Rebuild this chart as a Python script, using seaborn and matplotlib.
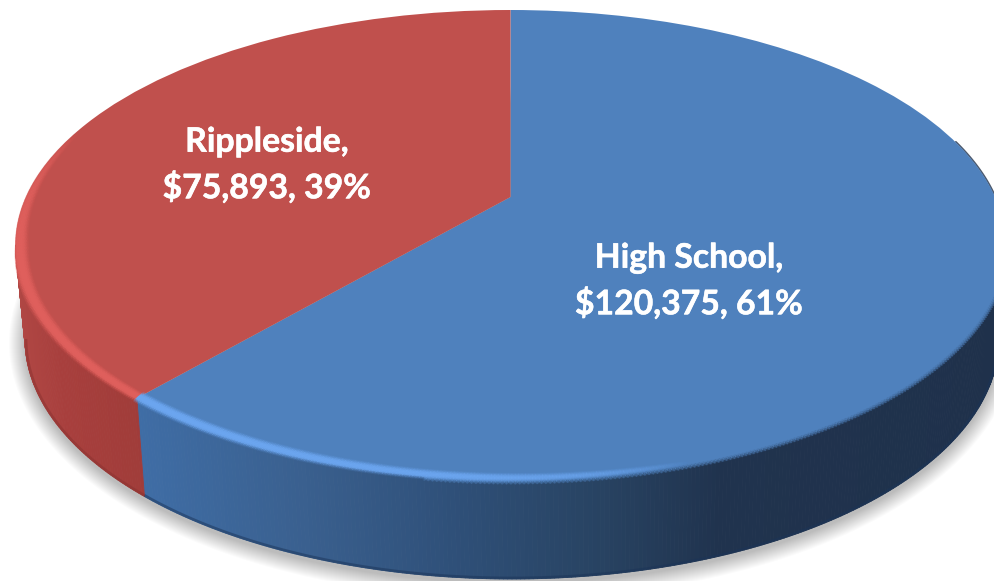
import numpy as np
import matplotlib
matplotlib.use("Agg")
import matplotlib.pyplot as plt
import matplotlib.patheffects as pe
from matplotlib.collections import PolyCollection
from matplotlib.transforms import Transform
from matplotlib.colors import to_rgb
import seaborn as sns

categories = ["High School", "Rippleside"]
values = [120375, 75893]
percents = [61, 39]

face_colors = ["#4F81BD", "#C0504D"]
rim_colors = ["#6CA6F0", "#E0605D"]

sns.set_style("white")
palette = sns.color_palette(face_colors)
plt.rcParams["font.family"] = ["Lato", "DejaVu Sans"]

W, H = 995, 581
# projected disc geometry (pixel units of the axes)
XC, APEX_Y, UP, DOWN = 510.5, 197.0, 187.0, 283.0
SEMI_A = 495.0
K = (DOWN - UP) / (DOWN + UP)
B = UP * (1 + K)
A = SEMI_A * np.sqrt(1 - K ** 2)
YC = APEX_Y + (DOWN - UP) / 2
SEMI_B = (DOWN + UP) / 2
# lower rim of the disc
XB, YB, AB, BB = 512.0, 339.0, 487.0, 240.0


class Perspective(Transform):
    input_dims = 2
    output_dims = 2
    is_separable = False
    has_inverse = False

    def transform_non_affine(self, xy):
        xy = np.asarray(xy, float)
        u, v = xy[:, 0], xy[:, 1]
        w = 1 + K * v
        return np.column_stack([XC + A * u / w, APEX_Y - B * v / w])


fig, ax = plt.subplots(figsize=(W / 100, H / 100), dpi=100)
fig.subplots_adjust(0, 0, 1, 1)

wedges, _ = ax.pie(values, colors=palette, startangle=90, counterclock=False,
                   wedgeprops={"linewidth": 0})
persp = Perspective()
for wd in wedges:
    wd.set_transform(persp + ax.transData)
    wd.set_zorder(3)

# boundary of the two slices on the rim, in ellipse parameter
frac = values[0] / sum(values)
ang = 2 * np.pi * frac
pt = persp.transform_non_affine(np.array([[np.sin(ang), np.cos(ang)]]))[0]
T_B = np.arctan2((pt[1] - YC) / SEMI_B, (pt[0] - XC) / SEMI_A)
if T_B < 0:
    T_B += 2 * np.pi
DEG_B = np.degrees(T_B)


def top(t, d=0.0):
    return XC + (SEMI_A - d) * np.cos(t), YC + (SEMI_B - d) * np.sin(t)


def bot(t, d=0.0):
    return XB + (AB + d) * np.cos(t), YB + (BB + d) * np.sin(t)


# soft ground shadow
tt = np.linspace(0, 2 * np.pi, 400)
for d in np.linspace(16, 0, 17):
    x, y = bot(tt, d)
    ax.fill(x, y + 4, color="black", alpha=0.014, lw=0, zorder=1)

# side wall, shaded by horizontal position
blue_x = [140, 300, 450, 600, 720, 1000]
blue_c = np.array([to_rgb(c) for c in ["#3F6DA5", "#3A608F", "#2F5079", "#284362", "#20334E", "#1F314B"]])
red_x = [15, 60, 150]
red_c = np.array([to_rgb(c) for c in ["#B04744", "#A83F3D", "#9F3C39"]])


def wall_colour(x, is_red):
    xs, cs = (red_x, red_c) if is_red else (blue_x, blue_c)
    return [np.interp(x, xs, cs[:, i]) for i in range(3)]


ts = np.linspace(0, np.pi, 361)
polys, cols = [], []
for t0, t1 in zip(ts[:-1], ts[1:]):
    x0, y0 = top(t0); x1, y1 = top(t1)
    x2, y2 = bot(t1); x3, y3 = bot(t0)
    polys.append([(x0, y0), (x1, y1), (x2, y2), (x3, y3)])
    cols.append(wall_colour((x0 + x1) / 2, (t0 + t1) / 2 > T_B))
ax.add_collection(PolyCollection(polys, facecolors=cols, edgecolors=cols,
                                 linewidths=0.6, zorder=2))

# darker line along the foot of the wall
for lo, hi, col in [(0, T_B, "#1B3458"), (T_B, np.pi, "#8A3230")]:
    t = np.linspace(lo, hi, 200)
    x, y = bot(t, -1)
    ax.plot(x, y, color=col, lw=2, alpha=0.5, zorder=2.5, solid_capstyle="butt")

# bevel highlight on the edge of the disc, as smooth meshes
R = np.linspace(0, 1, 9)


def rim_mesh(deg, strength, width, r_start, rgb, zorder):
    t = np.radians(deg)
    X = np.zeros((len(t), len(R)))
    Y = np.zeros_like(X)
    C = np.zeros((*X.shape, 4))
    C[..., :3] = rgb
    for i, ti in enumerate(t):
        for j, r in enumerate(R):
            pos = r_start[i] + (1 - r_start[i]) * r
            X[i, j], Y[i, j] = top(ti, pos * width[i])
            C[i, j, 3] = strength[i] * np.exp(-((pos - 0.3) / 0.36) ** 2)
    C[:, -1, 3] = 0
    ax.pcolormesh(X, Y, C, shading="gouraud", zorder=zorder)


deg = np.linspace(DEG_B, 210, 200)
rim_mesh(deg,
         np.interp(deg, [175, 210], [0.9, 0.0]),
         np.interp(deg, [DEG_B, 180, 210], [10, 15, 6]),
         np.interp(deg, [165, 180], [-0.35, 0.0]),
         to_rgb(rim_colors[1]), 4)
deg = np.linspace(60, DEG_B, 200)
rim_mesh(deg,
         np.interp(deg, [68, 95, DEG_B], [0.0, 0.7, 1.0]),
         np.interp(deg, [60, DEG_B], [6, 11]),
         np.full_like(deg, -0.35),
         to_rgb(rim_colors[0]), 4)

# soft blur where the disc meets the dark wall
deg = np.linspace(0, 100, 200)
t = np.radians(deg)
D = np.array([-4.5, 0.5])
X = np.zeros((len(t), 2)); Y = np.zeros((len(t), 2)); C = np.zeros((len(t), 2, 4))
C[..., :3] = to_rgb(face_colors[0])
C[:, 0, 3] = 0.0
C[:, 1, 3] = 1.0
for i, ti in enumerate(t):
    for j, d in enumerate(D):
        X[i, j], Y[i, j] = top(ti, d)
ax.pcolormesh(X, Y, C, shading="gouraud", zorder=3.5)

# thin dark edge at the far right of the disc
t = np.radians(np.linspace(-26, 0, 60))
x, y = top(t, -0.5)
ax.plot(x, y, color="#1F314B", lw=1.2, alpha=0.8, zorder=2.9)

ax.set_aspect("auto")
ax.set_xlim(0, W)
ax.set_ylim(H, 0)
ax.axis("off")

# labels
label_pos = [(689, 281), (267, 165)]
for cat, val, pct, (lx, ly) in zip(categories, values, percents, label_pos):
    ax.text(lx, ly, f"{cat},\n${val:,}, {pct}%", color="white", ha="center",
            va="center", fontsize=24.3, fontweight="bold", linespacing=1.45, zorder=6,
            path_effects=[pe.withStroke(linewidth=0.4, foreground="white")])

fig.savefig("out.png", dpi=100, facecolor="white")
